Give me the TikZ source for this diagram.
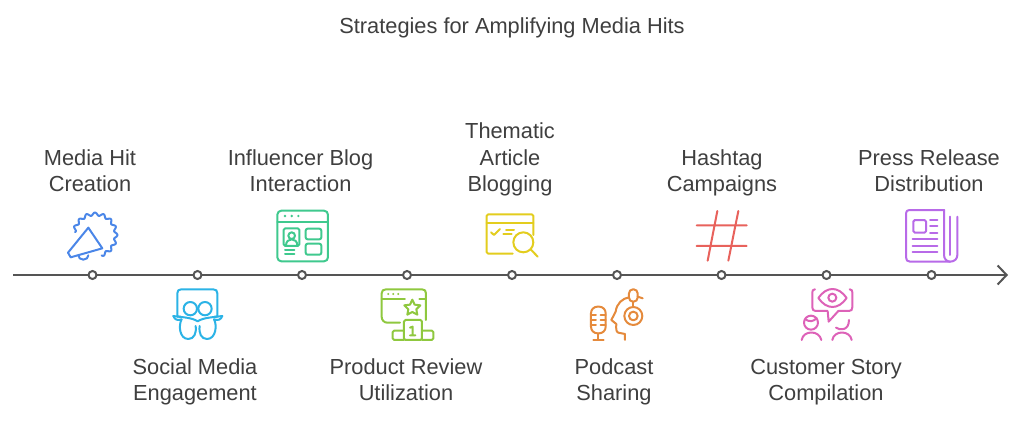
\documentclass[tikz,border=0pt]{standalone}
\usepackage{fontspec}
\setmainfont{Liberation Sans}
\usetikzlibrary{arrows.meta}
\definecolor{axisc}{HTML}{555555}
\definecolor{textc}{HTML}{3F3F3F}
\definecolor{cblue}{HTML}{4A86E8}
\definecolor{ccyan}{HTML}{2BB3E6}
\definecolor{cgreen}{HTML}{3FC98E}
\definecolor{clime}{HTML}{8FC83F}
\definecolor{cyellow}{HTML}{E3CD1E}
\definecolor{corange}{HTML}{E58A3C}
\definecolor{cred}{HTML}{E8625C}
\definecolor{cpink}{HTML}{DD62B8}
\definecolor{cpurple}{HTML}{B86AE8}
\tikzset{
  lbl/.style={align=center,text=textc,inner sep=0pt,font=\fontsize{21.8}{26.6}\selectfont},
  axisdot/.style={circle,draw=axisc,fill=white,line width=2pt,minimum size=8pt,inner sep=0pt},
  axisline/.style={draw=axisc,line width=2pt},
  icon/.style={line width=2pt,line cap=round,line join=round,x=0.3333pt,y=-0.3333pt},
}
\begin{document}
\begin{tikzpicture}[x=1pt,y=-1pt]
\useasboundingbox (0,0) rectangle (1024,420);
\fill[white] (0,0) rectangle (1024,420);
\node[lbl] (title) at (512,28) {Strategies for Amplifying Media Hits\strut};
\coordinate (axisstart) at (13,275);
\coordinate (axisend) at (1008,275);
\draw[axisline,-{Straight Barb[length=9pt,width=19pt,line width=2pt]}] (axisstart) -- (axisend);
\foreach \n/\x in {a/92.5,b/197.5,c/302,d/407,e/512,f/617,g/721.5,h/826.5,i/931.5}
  \node[axisdot] (dot\n) at (\x,275) {};
\node[lbl] (la) at (90,173) {Media Hit\strut\\Creation\strut};
\node[lbl] (lb) at (195,382) {Social Media\strut\\Engagement\strut};
\node[lbl] (lc) at (300.5,173) {Influencer Blog\strut\\Interaction\strut};
\node[lbl] (ld) at (406,382) {Product Review\strut\\Utilization\strut};
\node[lbl] (le) at (510,160) {Thematic\strut\\Article\strut\\Blogging\strut};
\node[lbl] (lf) at (614,382) {Podcast\strut\\Sharing\strut};
\node[lbl] (lg) at (722,173) {Hashtag\strut\\Campaigns\strut};
\node[lbl] (lh) at (826,382) {Customer Story\strut\\Compilation\strut};
\node[lbl] (li) at (929,173) {Press Release\strut\\Distribution\strut};
% megaphone
\begin{scope}[shift={(50,200)},icon,draw=cblue]
\draw plot[smooth,domain=172:-72,samples=140,variable=\t] ({135+(63+4.5*cos(16*\t))*cos(\t)},{105-(63+4.5*cos(16*\t))*sin(\t)});
\draw (62,172) -- (54,158) -- (115,83) -- (157,145) -- cycle;
\draw (85,166) arc[start angle=180,end angle=360,x radius=15,y radius=-13];
\end{scope}
% social
\begin{scope}[shift={(50,200)},icon,draw=ccyan]
\draw (392,350) -- (382,350) -- (382,280) .. controls (382,272) and (386,268) .. (394,268) -- (490,268) .. controls (498,268) and (502,272) .. (502,280) -- (502,350) -- (494,350);
\draw (421,326) circle[radius=20];
\draw (465,326) circle[radius=20];
\draw (370,348) .. controls (395,352) and (425,352) .. (443,364) .. controls (461,352) and (491,352) .. (517,348);
\draw (370,348) .. controls (375,360) and (382,362) .. (395,358) .. controls (385,375) and (388,417) .. (415,417) .. controls (432,417) and (440,400) .. (437,378);
\draw (517,348) .. controls (512,360) and (505,362) .. (492,358) .. controls (502,375) and (498,417) .. (471,417) .. controls (454,417) and (446,400) .. (449,378);
\end{scope}
% influencer
\begin{scope}[shift={(260,200)},icon,draw=cgreen]
\draw[rounded corners=4pt] (52,32) rectangle (204,184);
\draw (52,65) -- (204,65);
\fill[cgreen] (75,48) circle[radius=4] (95,48) circle[radius=4] (115,48) circle[radius=4];
\draw[rounded corners=1.5pt] (71,85) rectangle (118,138);
\draw (95,107) circle[radius=10];
\draw (78,136) .. controls (78,112) and (112,112) .. (112,136);
\draw (75,150) -- (103,150) (75,163) -- (103,163);
\draw[rounded corners=2pt] (137,86) rectangle (184,118);
\draw[rounded corners=2pt] (137,131) rectangle (184,164);
\end{scope}
% product review
\begin{scope}[shift={(260,200)},icon,draw=clime]
\draw (420,368) -- (382,368) .. controls (372,368) and (365,360) .. (365,350) -- (365,280) .. controls (365,272) and (370,268) .. (378,268) -- (486,268) .. controls (494,268) and (498,272) .. (498,280) -- (498,360);
\draw (365,296) -- (435,296) (478,296) -- (498,296);
\fill[clime] (385,282) circle[radius=3.5] (400,282) circle[radius=3.5] (415,282) circle[radius=3.5];
\draw (457,299) -- (464,314) -- (481,316) -- (469,328) -- (472,344) -- (457,336) -- (442,344) -- (445,328) -- (433,316) -- (450,314) -- cycle;
\draw[rounded corners=1.5pt] (432,420) -- (432,360) -- (486,360) -- (486,420) -- cycle;
\draw[rounded corners=1.5pt] (432,392) -- (398,392) -- (398,420) -- (432,420);
\draw[rounded corners=1.5pt] (486,392) -- (520,392) -- (520,420) -- (486,420);
\draw (450,383) -- (458,380) -- (458,406) (450,406) -- (466,406);
\end{scope}
% thematic
\begin{scope}[shift={(470,200)},icon,draw=cyellow]
\draw[rounded corners=1.5pt] (128,161) -- (50,161) -- (50,43) -- (190,43) -- (190,105);
\draw (50,70) -- (190,70);
\draw (63,97) -- (72,105) -- (90,87);
\draw (108,89) -- (132,89) (100,102) -- (125,102);
\draw (160,127) circle[radius=30];
\draw (182,148) -- (203,170);
\end{scope}
% podcast
\begin{scope}[shift={(470,200)},icon,draw=corange]
\draw[rounded corners=6.5pt] (363,320) rectangle (407,400);
\draw (363,345) -- (378,345) (392,345) -- (407,345) (363,360) -- (378,360) (392,360) -- (407,360) (363,375) -- (378,375) (392,375) -- (407,375);
\draw (385,400) -- (385,420) (370,420) -- (401,420);
\draw (465,420) -- (465,402) -- (445,398) .. controls (438,396) and (438,385) .. (439,372) -- (424,360) -- (437,335) .. controls (440,310) and (458,295) .. (477,292);
\draw[rounded corners=4pt] (477,268) rectangle (503,305);
\draw (503,290) -- (518,295);
\draw (490,305) -- (490,321);
\draw (490,348) circle[radius=27];
\draw (490,348) circle[radius=13];
\end{scope}
% hashtag
\begin{scope}[shift={(680,200)},icon,draw=cred]
\draw (50,76) -- (200,76) (50,138) -- (200,138) (112,33) -- (83,182) (175,33) -- (145,182);
\end{scope}
% customer
\begin{scope}[shift={(680,200)},icon,draw=cpink]
\draw (405,268) .. controls (399,268) and (397,272) .. (397,277) -- (397,322) .. controls (397,329) and (400,333) .. (407,333) -- (443,333) -- (446,365) -- (475,333) -- (507,333) .. controls (514,333) and (517,329) .. (517,322) -- (517,277) .. controls (517,272) and (515,268) .. (509,268);
\draw (415,294) .. controls (440,258) and (475,258) .. (500,294) .. controls (475,330) and (440,330) .. (415,294);
\draw (457,293) circle[radius=12];
\draw (393,368) circle[radius=21];
\draw (376,358) .. controls (388,366) and (400,366) .. (410,354);
\draw (365,420) .. controls (370,390) and (418,390) .. (424,420);
\draw (468,383) .. controls (480,392) and (507,392) .. (507,360);
\draw (457,420) .. controls (462,390) and (510,390) .. (515,420);
\end{scope}
% press
\begin{scope}[shift={(860,200)},icon,draw=cpurple]
\draw (252,30) -- (148,30) .. controls (142,30) and (138,34) .. (138,40) -- (138,172) .. controls (138,180) and (142,185) .. (150,185) -- (270,185) .. controls (284,185) and (292,176) .. (292,165) -- (292,50);
\draw (252,30) -- (252,165) .. controls (252,176) and (260,185) .. (270,185);
\draw (270,50) -- (270,165);
\draw[rounded corners=1.5pt] (160,60) rectangle (198,98);
\draw (210,60) -- (232,60) (210,78) -- (232,78) (210,98) -- (232,98);
\draw (158,118) -- (232,118) (158,137) -- (232,137) (158,157) -- (232,157);
\end{scope}
\end{tikzpicture}
\end{document}
